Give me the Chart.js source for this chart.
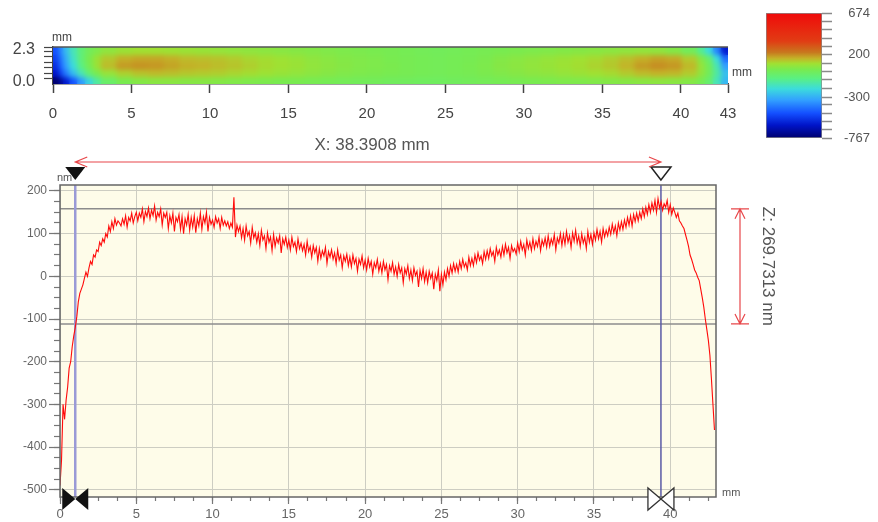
<!DOCTYPE html>
<html>
<head>
<meta charset="utf-8">
<title>Surface profile</title>
<script src="https://cdn.jsdelivr.net/npm/chart.js@4.4.1/dist/chart.umd.min.js"></script>
<style>
  html, body { margin: 0; padding: 0; background: #fff; }
  #wrap { position: relative; width: 878px; height: 522px; overflow: hidden; }
  canvas { position: absolute; }
  #mapChart { left: 0; top: 0; }
  #barChart { left: 740px; top: -7px; }
  #profileChart { left: 0; top: 130px; }
</style>
</head>
<body>
<div id="wrap">
  <canvas id="mapChart" width="760" height="125"></canvas>
  <canvas id="barChart" width="138" height="166"></canvas>
  <canvas id="profileChart" width="878" height="392"></canvas>
</div>
<script>
// ---- height map (nm), column edges in mm, rows from bottom (y=0) to top (y=2.3 mm)
const mapEdgesX = [0, 0.3, 0.6, 1, 1.5, 2, 2.5, 3, 4, 5, 6, 7, 8, 9, 10, 11, 12, 13, 14, 15, 16, 17, 18, 19, 20,
  21, 22, 23, 24, 25, 26, 27, 28, 29, 30, 31, 32, 33, 34, 35, 36, 37, 38, 39, 40, 41, 41.5, 42, 42.5, 43];
const mapRowLabels = ['0.23', '0.69', '1.15', '1.61', '2.07'];
const mapRowValues = [
  [-767, -700, -600, -470, -340, -220, -120,
   -30, 20, 40, 50, 50, 45, 45, 40, 35, 30, 25, 20, 20, 15, 10, 5, 0, 0, -5, -5, -10, -10, -5, 0,
   5, 10, 15, 20, 25, 30, 30, 35, 40, 45, 50, 55, 50, 40,
   10, -40, -150, -280],
  [-620, -520, -400, -270, -150, -50, 20,
   70, 110, 130, 140, 135, 125, 120, 115, 105, 95, 85, 75, 65, 55, 45, 35, 30, 25, 20, 15, 10, 5, 10, 15,
   25, 35, 45, 55, 60, 70, 80, 90, 100, 120, 140, 150, 145, 120,
   60, 0, -120, -260],
  [-560, -450, -330, -200, -80, 10, 80,
   140, 180, 190, 185, 170, 155, 150, 140, 130, 115, 100, 90, 80, 65, 55, 45, 35, 30, 25, 15, 10, 5, 10, 20,
   30, 45, 55, 65, 75, 85, 95, 110, 125, 150, 180, 195, 185, 145,
   70, 0, -140, -330],
  [-520, -420, -300, -170, -60, 20, 80,
   125, 155, 165, 165, 155, 140, 135, 130, 120, 105, 95, 85, 75, 60, 50, 40, 35, 30, 20, 15, 10, 5, 10, 15,
   25, 40, 50, 60, 70, 80, 90, 100, 115, 135, 155, 170, 160, 120,
   40, -40, -200, -420],
  [-480, -380, -270, -150, -60, 0, 30,
   60, 80, 90, 90, 85, 80, 75, 70, 65, 60, 55, 50, 45, 40, 35, 30, 25, 20, 15, 10, 5, 0, 5, 10,
   15, 20, 25, 30, 35, 40, 45, 50, 55, 60, 65, 60, 40, 0,
   -100, -200, -380, -600]
];
const mapXTicks = [0, 5, 10, 15, 20, 25, 30, 35, 40, 43];
const mapYTicks = [0, 0.4, 0.8, 1.2, 1.6, 2.0, 2.3];
const mapYLabels = [0, 2.3];

// ---- colour scale range and labelled ticks (nm)
const scaleMin = -767;
const scaleMax = 674;
const scaleLabels = [-767, -300, 200, 674];

// ---- line profile (nm), sampled every 0.1 mm from x = 0, one row per mm
const profileStart = 0;
const profileStep = 0.1;
const profileValues = [
  -490, -430, -300, -335, -290, -260, -215, -200, -165, -140,
  -120, -95, -60, -40, -30, -20, -5, 10, 0, 20,
  35, 28, 50, 45, 62, 58, 80, 72, 88, 80,
  100, 92, 118, 105, 128, 112, 135, 120, 130, 125,
  118, 135, 122, 142, 115, 138, 130, 148, 125, 140,
  150, 130, 148, 138, 158, 128, 152, 140, 160, 135,
  155, 142, 165, 132, 150, 140, 158, 120, 148, 138,
  150, 112, 142, 125, 148, 105, 138, 128, 145, 110,
  140, 100, 135, 120, 145, 108, 138, 115, 142, 102,
  135, 118, 148, 110, 140, 125, 150, 105, 138, 122,
  132, 115, 140, 125, 135, 112, 138, 120, 130, 118,
  128, 112, 125, 115, 185, 92, 120, 105, 118, 90,
  112, 85, 118, 95, 105, 78, 115, 90, 102, 80,
  100, 72, 108, 85, 95, 65, 102, 80, 92, 60,
  98, 70, 90, 78, 95, 55, 88, 75, 92, 68,
  85, 62, 92, 70, 80, 58, 88, 65, 78, 60,
  75, 50, 82, 58, 70, 45, 72, 55, 68, 35,
  65, 42, 60, 48, 68, 30, 58, 45, 62, 40,
  55, 30, 62, 38, 50, 20, 48, 35, 52, 25,
  45, 22, 50, 30, 42, 12, 40, 28, 48, 20,
  38, 15, 42, 22, 35, 5, 32, 20, 40, 12,
  30, 8, 35, 15, 28, -8, 25, 12, 32, 5,
  22, 0, 28, 8, 20, -15, 18, 5, 25, -5,
  15, -10, 20, 2, 12, -25, 14, -5, 18, -12,
  10, -15, 12, -5, 8, -30, 5, -10, 15, -35,
  5, -20, 10, -8, 18, 0, 25, 8, 30, 12,
  28, 10, 35, 18, 40, 22, 32, 15, 45, 25,
  42, 25, 50, 32, 55, 38, 48, 30, 58, 40,
  60, 42, 65, 48, 58, 35, 68, 50, 62, 45,
  70, 50, 75, 55, 68, 42, 72, 58, 65, 52,
  78, 58, 82, 62, 75, 50, 85, 65, 80, 60,
  88, 65, 82, 70, 92, 60, 85, 72, 90, 68,
  95, 70, 88, 75, 98, 62, 90, 78, 100, 72,
  98, 75, 105, 80, 95, 68, 102, 82, 108, 78,
  95, 70, 100, 78, 92, 65, 105, 80, 98, 75,
  102, 85, 110, 88, 105, 80, 112, 92, 108, 95,
  115, 98, 122, 102, 118, 95, 125, 108, 128, 110,
  132, 115, 138, 120, 142, 118, 145, 128, 148, 130,
  150, 135, 158, 140, 162, 145, 168, 150, 172, 155,
  178, 150, 182, 160, 175, 155, 170, 162, 178, 150,
  168, 145, 160, 150, 138, 148, 130, 125, 118, 112,
  98, 85, 70, 50, 40, 28, 15, 8, -2, -10,
  -30, -50, -72, -100, -125, -150, -185, -240, -300, -360
];
const profileXTicks = [0, 5, 10, 15, 20, 25, 30, 35, 40];
const profileYTicks = [-500, -400, -300, -200, -100, 0, 100, 200];

// measurement cursors
const cursorX = [1.0, 39.3908];        // mm
const cursorZ = [158.2, -111.5313];    // nm

// ---- styling
const FONT = '"Liberation Sans", Arial, Helvetica, sans-serif';
const plotFill = '#fefce9';
const colorStops = [
  [-767, [0, 0, 110]],
  [-620, [0, 20, 200]],
  [-480, [20, 80, 255]],
  [-330, [50, 160, 255]],
  [-200, [60, 220, 220]],
  [-80, [90, 240, 130]],
  [20, [120, 235, 80]],
  [90, [160, 225, 50]],
  [150, [195, 180, 40]],
  [220, [200, 120, 30]],
  [350, [225, 60, 20]],
  [674, [240, 10, 10]]
];

Chart.defaults.font.family = FONT;
Chart.defaults.animation = false;
Chart.defaults.responsive = false;
Chart.defaults.devicePixelRatio = 1;
Chart.defaults.events = [];
Chart.defaults.plugins.legend.display = false;
Chart.defaults.plugins.tooltip.enabled = false;

function rgb(c) {
  return 'rgb(' + c.map(Math.round).join(',') + ')';
}

function mapColor(v) {
  const s = colorStops;
  if (v <= s[0][0]) return rgb(s[0][1]);
  for (let i = 1; i < s.length; i++) {
    if (v <= s[i][0]) {
      const t = (v - s[i - 1][0]) / (s[i][0] - s[i - 1][0]);
      const a = s[i - 1][1], b = s[i][1];
      return rgb(a.map((c, k) => c + (b[k] - c) * t));
    }
  }
  return rgb(s[s.length - 1][1]);
}

function stepTicks(from, to, step) {
  const out = [];
  for (let v = from; v <= to + 1e-9; v += step) out.push({ value: +v.toFixed(4) });
  return out;
}

// ================= height map =================
const mapDatasets = [];
for (let j = 0; j < mapEdgesX.length - 1; j++) {
  mapDatasets.push({
    data: mapRowValues.map(() => [mapEdgesX[j], mapEdgesX[j + 1]]),
    backgroundColor: mapRowValues.map(row => mapColor(row[j])),
    grouped: false,
    barPercentage: 1,
    categoryPercentage: 1,
    borderWidth: 0,
    inflateAmount: 0.6
  });
}

const mapFrame = {
  id: 'mapFrame',
  afterDatasetsDraw(chart) {
    // soften the cell edges: copy the plot area and lay a blurred copy over it
    const { ctx, chartArea: a, canvas } = chart;
    const w = Math.round(a.width), h = Math.round(a.height);
    const off = document.createElement('canvas');
    off.width = w;
    off.height = h;
    off.getContext('2d').drawImage(canvas, Math.round(a.left), Math.round(a.top), w, h, 0, 0, w, h);
    ctx.save();
    ctx.beginPath();
    ctx.rect(a.left, a.top, a.width, a.height);
    ctx.clip();
    ctx.filter = 'blur(2.5px)';
    ctx.drawImage(off, Math.round(a.left), Math.round(a.top));
    ctx.restore();
  },
  afterDraw(chart) {
    const { ctx, chartArea: a } = chart;
    ctx.save();
    ctx.strokeStyle = '#555';
    ctx.lineWidth = 1.5;
    ctx.beginPath();
    ctx.moveTo(a.left, a.top);
    ctx.lineTo(a.right, a.top);
    ctx.stroke();
    ctx.fillStyle = '#444';
    ctx.font = '12px ' + FONT;
    ctx.textBaseline = 'middle';
    ctx.textAlign = 'left';
    ctx.fillText('mm', a.left - 1, a.top - 9);
    ctx.fillText('mm', a.right + 4, a.top + 26);
    ctx.restore();
  }
};

new Chart(document.getElementById('mapChart'), {
  type: 'bar',
  data: { labels: mapRowLabels, datasets: mapDatasets },
  options: {
    indexAxis: 'y',
    layout: { padding: { left: 0, top: 47, right: 32, bottom: 0 } },
    scales: {
      x: {
        type: 'linear', min: 0, max: 43,
        afterBuildTicks: s => { s.ticks = mapXTicks.map(v => ({ value: v })); },
        afterFit: s => { s.height = 41; },
        grid: { drawOnChartArea: false, tickLength: 9, tickColor: '#444', tickWidth: 1.5 },
        border: { color: '#444', width: 1.5 },
        ticks: { color: '#444', font: { size: 15 }, padding: 12, maxRotation: 0, autoSkip: false }
      },
      y: { type: 'category', reverse: true, display: false },
      yTicks: {
        type: 'linear', position: 'left', min: 0, max: 2.3,
        afterBuildTicks: s => { s.ticks = mapYTicks.map(v => ({ value: v })); },
        afterFit: s => { s.width = 53; },
        grid: { drawOnChartArea: false, tickLength: 9, tickColor: '#444', tickWidth: 1.2 },
        border: { color: '#444', width: 1.5 },
        ticks: {
          color: '#444', font: { size: 16 }, padding: 9, autoSkip: false,
          callback: v => mapYLabels.includes(v) ? v.toFixed(1) : ''
        }
      }
    }
  },
  plugins: [mapFrame]
});

// ================= colour bar =================
function barGradient(chart) {
  if (!chart.chartArea) return null;
  const y = chart.scales.y;
  const g = chart.ctx.createLinearGradient(0, y.getPixelForValue(scaleMin), 0, y.getPixelForValue(scaleMax));
  colorStops.forEach(s => g.addColorStop((s[0] - scaleMin) / (scaleMax - scaleMin), rgb(s[1])));
  return g;
}

new Chart(document.getElementById('barChart'), {
  type: 'bar',
  data: {
    labels: ['nm'],
    datasets: [{
      data: [[scaleMin, scaleMax]],
      backgroundColor: ctx => barGradient(ctx.chart),
      borderColor: '#8a8a8a',
      borderWidth: 1,
      borderSkipped: false,
      barPercentage: 1,
      categoryPercentage: 1
    }]
  },
  options: {
    layout: { padding: { left: 26, top: 20, right: 8, bottom: 21 } },
    scales: {
      x: { display: false },
      y: {
        position: 'right', min: scaleMin, max: scaleMax,
        afterBuildTicks: s => {
          // 15 evenly spaced marks, with the labelled values swapped in
          const marks = [];
          for (let i = 0; i <= 15; i++) marks.push(scaleMin + (scaleMax - scaleMin) * i / 15);
          marks[5] = -300;
          marks[10] = 200;
          s.ticks = marks.map(v => ({ value: v }));
        },
        afterFit: s => { s.width = 48; },
        grid: { drawOnChartArea: false, tickLength: 10, tickColor: '#8a8a8a', tickWidth: 1.5 },
        border: { display: false },
        ticks: {
          crossAlign: 'far', padding: 12, color: '#555', font: { size: 13 }, autoSkip: false,
          callback: v => scaleLabels.includes(v) ? String(v) : ''
        }
      }
    }
  }
});

// ================= line profile =================
const profilePoints = profileValues.map((v, i) => ({ x: +(profileStart + i * profileStep).toFixed(2), y: v }));
const yMin = -517, yMax = 214;

function triangle(ctx, cx, top, filled) {
  ctx.beginPath();
  ctx.moveTo(cx - 10, top - 18);
  ctx.lineTo(cx + 10, top - 18);
  ctx.lineTo(cx, top - 5);
  ctx.closePath();
  if (filled) { ctx.fillStyle = '#111'; ctx.fill(); }
  else { ctx.fillStyle = '#fff'; ctx.fill(); ctx.strokeStyle = '#222'; ctx.lineWidth = 1.5; ctx.stroke(); }
}

function bowtie(ctx, cx, cy, filled) {
  ctx.beginPath();
  ctx.moveTo(cx - 13, cy - 11);
  ctx.lineTo(cx - 13, cy + 11);
  ctx.lineTo(cx, cy);
  ctx.closePath();
  ctx.moveTo(cx + 13, cy - 11);
  ctx.lineTo(cx + 13, cy + 11);
  ctx.lineTo(cx, cy);
  ctx.closePath();
  if (filled) { ctx.fillStyle = '#111'; ctx.fill(); }
  else { ctx.fillStyle = '#fff'; ctx.fill(); ctx.strokeStyle = '#333'; ctx.lineWidth = 1.3; ctx.stroke(); }
}

const profileMarks = {
  id: 'profileMarks',
  beforeDraw(chart) {
    const { ctx, chartArea: a } = chart;
    ctx.save();
    ctx.fillStyle = plotFill;
    ctx.fillRect(a.left, a.top, a.width, a.height);
    ctx.restore();
  },
  afterDraw(chart) {
    const { ctx, chartArea: a, scales: { x, y } } = chart;
    const x1 = x.getPixelForValue(cursorX[0]);
    const x2 = x.getPixelForValue(cursorX[1]);
    const z1 = y.getPixelForValue(cursorZ[0]);
    const z2 = y.getPixelForValue(cursorZ[1]);
    ctx.save();

    ctx.strokeStyle = '#666';
    ctx.lineWidth = 1.5;
    ctx.strokeRect(a.left, a.top, a.width, a.height);

    ctx.fillStyle = '#555';
    ctx.font = '11px ' + FONT;
    ctx.textAlign = 'left';
    ctx.textBaseline = 'alphabetic';
    ctx.fillText('nm', a.left - 3, a.top - 4);
    ctx.fillText('mm', a.right + 6, a.bottom - 1);

    triangle(ctx, x1, a.top, true);
    triangle(ctx, x2, a.top, false);
    bowtie(ctx, x1, a.bottom + 2, true);
    bowtie(ctx, x2, a.bottom + 2, false);

    // X distance arrow
    const ya = a.top - 23;
    ctx.strokeStyle = '#e8474a';
    ctx.lineWidth = 1.2;
    ctx.beginPath();
    ctx.moveTo(x1, ya); ctx.lineTo(x2, ya);
    ctx.moveTo(x1 + 12, ya - 5); ctx.lineTo(x1, ya); ctx.lineTo(x1 + 12, ya + 5);
    ctx.moveTo(x2 - 12, ya - 5); ctx.lineTo(x2, ya); ctx.lineTo(x2 - 12, ya + 5);
    ctx.stroke();

    ctx.fillStyle = '#555';
    ctx.font = '17px ' + FONT;
    ctx.textAlign = 'center';
    ctx.textBaseline = 'middle';
    ctx.fillText('X: ' + (cursorX[1] - cursorX[0]).toFixed(4) + ' mm', (x1 + x2) / 2 + 4, a.top - 40);

    // Z height arrow
    const xz = a.right + 24;
    ctx.beginPath();
    ctx.moveTo(xz, z1); ctx.lineTo(xz, z2);
    ctx.moveTo(xz - 9, z1); ctx.lineTo(xz + 9, z1);
    ctx.moveTo(xz - 9, z2); ctx.lineTo(xz + 9, z2);
    ctx.moveTo(xz - 5, z1 + 10); ctx.lineTo(xz, z1); ctx.lineTo(xz + 5, z1 + 10);
    ctx.moveTo(xz - 5, z2 - 10); ctx.lineTo(xz, z2); ctx.lineTo(xz + 5, z2 - 10);
    ctx.stroke();

    ctx.translate(a.right + 52, (z1 + z2) / 2);
    ctx.rotate(Math.PI / 2);
    ctx.fillText('Z: ' + (cursorZ[0] - cursorZ[1]).toFixed(4) + ' nm', 0, 0);
    ctx.restore();
  }
};

const lineStyle = { pointRadius: 0, tension: 0, fill: false };

new Chart(document.getElementById('profileChart'), {
  type: 'line',
  data: {
    datasets: [
      { ...lineStyle, data: profilePoints, borderColor: '#ff0a0a', borderWidth: 1.1 },
      { ...lineStyle, data: [{ x: cursorX[0], y: yMin }, { x: cursorX[0], y: yMax }], borderColor: '#9a9ad6', borderWidth: 2.5 },
      { ...lineStyle, data: [{ x: cursorX[1], y: yMin }, { x: cursorX[1], y: yMax }], borderColor: '#5a5aa6', borderWidth: 1.5 },
      { ...lineStyle, data: [{ x: 0, y: cursorZ[0] }, { x: 43, y: cursorZ[0] }], borderColor: '#8c8c8c', borderWidth: 1.5 },
      { ...lineStyle, data: [{ x: 0, y: cursorZ[1] }, { x: 43, y: cursorZ[1] }], borderColor: '#8c8c8c', borderWidth: 1.5 }
    ]
  },
  options: {
    layout: { padding: { left: 0, top: 55, right: 162, bottom: 0 } },
    scales: {
      x: {
        type: 'linear', min: 0, max: 43, weight: 1,
        afterBuildTicks: s => { s.ticks = profileXTicks.map(v => ({ value: v })); },
        afterFit: s => { s.height = 25; },
        grid: { color: '#cdcdc2', lineWidth: 1, tickLength: 7, tickColor: '#777', tickWidth: 1.2 },
        border: { display: false },
        ticks: { color: '#666', font: { size: 13 }, padding: 3, maxRotation: 0, autoSkip: false }
      },
      xMinor: {
        type: 'linear', position: 'bottom', min: 0, max: 43, weight: 0,
        afterBuildTicks: s => { s.ticks = stepTicks(0, 43, 1.25); },
        afterFit: s => { s.height = 0; },
        grid: { drawOnChartArea: false, tickLength: 4, tickColor: '#777', tickWidth: 1.2 },
        border: { display: false },
        ticks: { display: false }
      },
      y: {
        type: 'linear', min: yMin, max: yMax, weight: 1,
        afterBuildTicks: s => { s.ticks = profileYTicks.map(v => ({ value: v })); },
        afterFit: s => { s.width = 60; },
        grid: { color: '#cdcdc2', lineWidth: 1, tickLength: 11, tickColor: '#777', tickWidth: 1.2 },
        border: { display: false },
        ticks: { color: '#666', font: { size: 12 }, padding: 2, autoSkip: false }
      },
      yMinor: {
        type: 'linear', position: 'left', min: yMin, max: yMax, weight: 0,
        afterBuildTicks: s => { s.ticks = stepTicks(-500, 200, 25); },
        afterFit: s => { s.width = 0; },
        grid: { drawOnChartArea: false, tickLength: 6, tickColor: '#777', tickWidth: 1.2 },
        border: { display: false },
        ticks: { display: false }
      }
    }
  },
  plugins: [profileMarks]
});
</script>
</body>
</html>
